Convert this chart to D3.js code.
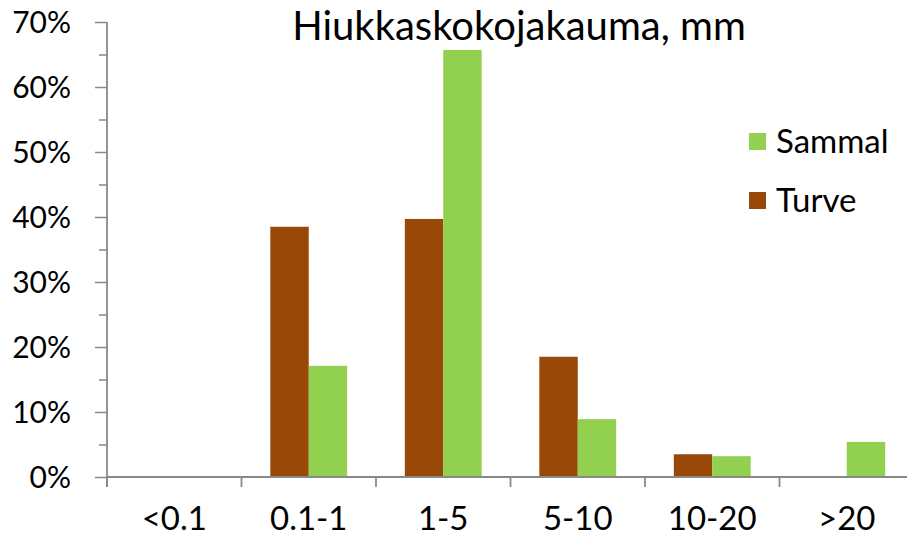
<!DOCTYPE html>
<html><head><meta charset="utf-8">
<script src="https://cdn.jsdelivr.net/npm/d3@7"></script>
<style>body{margin:0;background:#fff}svg{display:block}text{font-family:Lato,"Open Sans",sans-serif;fill:#000}</style>
</head><body><svg id="c" width="907" height="539"></svg>
<script>
const categories = ["<0.1","0.1-1","1-5","5-10","10-20",">20"];
const seriesNames = ["Turve","Sammal"];
const turve = [0, 0.385, 0.397, 0.185, 0.035, 0];
const sammal = [0, 0.171, 0.657, 0.089, 0.032, 0.054];
const yTicks = [0,0.1,0.2,0.3,0.4,0.5,0.6,0.7];
const yMinor = [0.05,0.15,0.25,0.35,0.45,0.55,0.65];
const title = "Hiukkaskokojakauma, mm";
const colors = {Turve:"#984807", Sammal:"#92D050"};
const values = {Turve: turve, Sammal: sammal};

(function(){
const svg = d3.select("#c");
const pLeft = 107, pRight = 914, pTop = 22, pBottom = 477;
const x0 = d3.scaleBand().domain(categories).range([pLeft, pRight]).padding(0);
const x1 = d3.scaleBand().domain(seriesNames).range([0, x0.bandwidth()]).paddingInner(0).paddingOuter(0.75);
const y = d3.scaleLinear().domain([0, 0.7]).range([pBottom, pTop]);
const axisColor = "#898989";

const g = svg.append("g");
categories.forEach((c, i) => {
  seriesNames.forEach(s => {
    const v = values[s][i];
    if (v <= 0) return;
    g.append("rect")
      .attr("x", x0(c) + x1(s))
      .attr("y", y(v))
      .attr("width", x1.bandwidth())
      .attr("height", y(0) - y(v))
      .attr("fill", colors[s]);
  });
});

const yAxis = svg.append("g").attr("transform", `translate(${pLeft},0)`)
  .call(d3.axisLeft(y).tickValues(yTicks).tickFormat(d3.format(".0%")).tickSize(12).tickPadding(24));
yAxis.select(".domain").remove();
yAxis.selectAll("line").attr("stroke", axisColor).attr("stroke-width", 1.5);
yAxis.selectAll("text").style("font-size", "30px").attr("dy", "0.36em").attr("font-family", null);
const yMin = svg.append("g").attr("transform", `translate(${pLeft},0)`)
  .call(d3.axisLeft(y).tickValues(yMinor).tickFormat("").tickSize(8));
yMin.select(".domain").remove();
yMin.selectAll("line").attr("stroke", axisColor).attr("stroke-width", 1.5);
svg.append("line").attr("x1", pLeft).attr("x2", pLeft).attr("y1", y(0.7)).attr("y2", y(0) + 10)
  .attr("stroke", axisColor).attr("stroke-width", 1.8);

svg.append("line").attr("x1", pLeft).attr("x2", pRight).attr("y1", y(0)).attr("y2", y(0))
  .attr("stroke", axisColor).attr("stroke-width", 1.8);
categories.forEach(c => {
  svg.append("line").attr("x1", x0(c)).attr("x2", x0(c)).attr("y1", y(0)).attr("y2", y(0) + 10)
    .attr("stroke", axisColor).attr("stroke-width", 1.8);
  svg.append("text").attr("x", x0(c) + x0.bandwidth() / 2).attr("y", 530)
    .attr("text-anchor", "middle").style("font-size", "33px").text(c);
});

svg.append("text").attr("x", 519).attr("y", 40).attr("text-anchor", "middle")
  .style("font-size", "40px").text(title);

const legendOrder = ["Sammal","Turve"];
legendOrder.forEach((s, i) => {
  const ly = 141 + i * 59;
  svg.append("rect").attr("x", 749).attr("y", ly - 8).attr("width", 17).attr("height", 17).attr("fill", colors[s]);
  svg.append("text").attr("x", 776).attr("y", ly).attr("dy", "0.36em").style("font-size", "33px").text(s);
});
})();
</script></body></html>
